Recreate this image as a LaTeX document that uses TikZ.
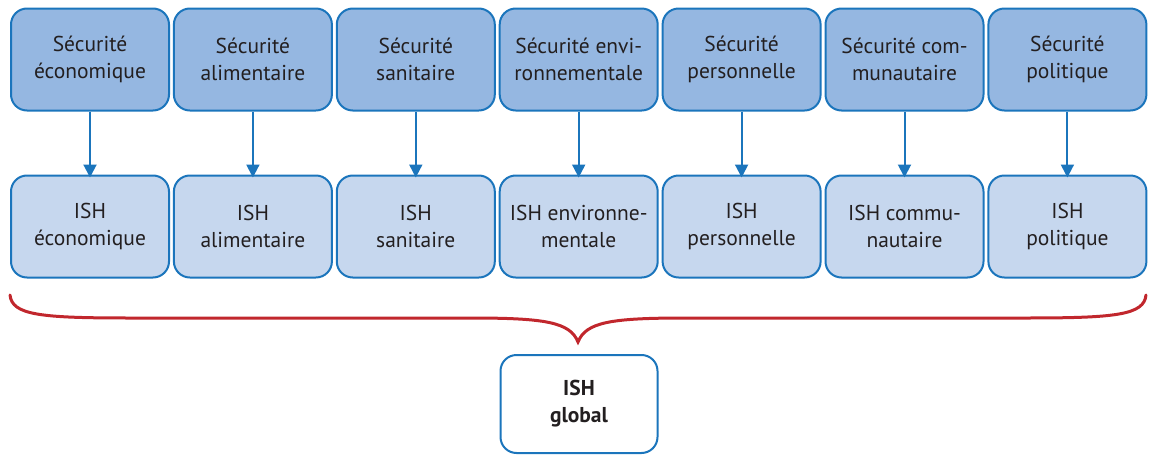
\documentclass[tikz,border=0pt]{standalone}
\usepackage{fontspec}
\setmainfont{PT Sans}
\usetikzlibrary{arrows.meta}
\definecolor{bord}{HTML}{1B75BC}
\definecolor{topfill}{HTML}{95B7E1}
\definecolor{botfill}{HTML}{C6D7EE}
\definecolor{txt}{HTML}{231F20}
\definecolor{brace}{HTML}{C1272D}
\begin{document}
\begin{tikzpicture}[x=1pt,y=-1pt,
  box/.style={draw=bord,line width=2pt,rounded corners=16pt,minimum width=158pt,minimum height=102pt,inner sep=0pt,align=center,text=txt,font=\fontsize{21.5}{27}\selectfont},
  topbox/.style={box,fill=topfill},
  botbox/.style={box,fill=botfill},
  arr/.style={draw=bord,line width=2pt,-{Triangle[length=13pt,width=13pt]}}]
\useasboundingbox (0,0) rectangle (1152,455);
\foreach \i/\a/\b in {1/{Sécurité\\économique}/{ISH\\économique},
  2/{Sécurité\\alimentaire}/{ISH\\alimentaire},
  3/{Sécurité\\sanitaire}/{ISH\\sanitaire},
  4/{Sécurité envi-\\ronnementale}/{ISH environne-\\mentale},
  5/{Sécurité\\personnelle}/{ISH\\personnelle},
  6/{Sécurité com-\\munautaire}/{ISH commu-\\nautaire},
  7/{Sécurité\\politique}/{ISH\\politique}}{
  \node[topbox] (t\i) at ({90+162.9*(\i-1)},59.5) {\a};
  \node[botbox] (b\i) at ({90+162.9*(\i-1)},226.5) {\b};
  \draw[arr] (t\i.south) -- ([yshift=-3pt]b\i.north);
}
\node[box,fill=white,minimum width=157pt,minimum height=98pt,font=\bfseries\fontsize{21.5}{27}\selectfont] (g) at (579,404) {ISH\\global};
\coordinate (bl) at (10,295);
\coordinate (br) at (1146,295);
\coordinate (bm) at (578,342);
\draw[brace,line width=3pt,line cap=round,line join=miter]
  (bl) .. controls (12,315) and (40,318) .. (130,318)
  -- (470,318) .. controls (545,318) and (570,322) .. (bm)
  .. controls (586,322) and (611,318) .. (686,318)
  -- (1026,318) .. controls (1116,318) and (1144,315) .. (br);
\end{tikzpicture}
\end{document}
